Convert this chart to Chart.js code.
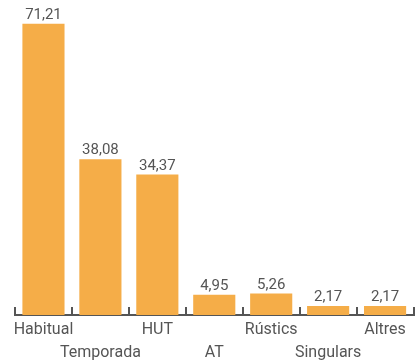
<!DOCTYPE html>
<html>
<head>
<meta charset="utf-8">
<script src="https://cdn.jsdelivr.net/npm/chart.js@4/dist/chart.umd.min.js"></script>
<style>
  body { margin: 0; background: #fff; }
  #wrap { width: 417px; height: 360px; }
</style>
</head>
<body>
<div id="wrap"><canvas id="graph"></canvas></div>
<script>
var categories = ['Habitual', 'Temporada', 'HUT', 'AT', 'Rústics', 'Singulars', 'Altres'];
var values = [71.21, 38.08, 34.37, 4.95, 5.26, 2.17, 2.17];

// staggered labels: every second one goes on the lower line
var tick_labels = categories.map(function(c, i){
    return i % 2 == 0 ? [c, ''] : ['', c];
});

var value_labels = {
    id: 'value_labels',
    afterDatasetsDraw: function(chart){
        var ctx = chart.ctx;
        var meta = chart.getDatasetMeta(0);
        ctx.save();
        ctx.font = '15px Roboto';
        ctx.fillStyle = '#555555';
        ctx.textAlign = 'center';
        ctx.textBaseline = 'bottom';
        meta.data.forEach(function(bar, i){
            var txt = values[i].toFixed(2).replace('.', ',');
            ctx.fillText(txt, bar.x, bar.y - 1);
        });
        ctx.restore();
    }
};

var chart_context = document.getElementById('graph').getContext('2d');
var chart = new Chart(chart_context, {
    type: 'bar',
    data: {
        labels: tick_labels,
        datasets: [{
            backgroundColor: '#F5AD48',
            data: values,
            categoryPercentage: 0.74,
            barPercentage: 1
        }]
    },
    options: {
        responsive: true,
        maintainAspectRatio: false,
        animation: false,
        layout: { padding: { left: 15, right: 2, top: 0, bottom: 0 } },
        plugins: {
            legend: { display: false },
            tooltip: { enabled: false }
        },
        scales: {
            y: { display: false, min: 0, max: 77 },
            x: {
                afterFit: function(scale){ scale.height = 45; },
                border: { color: '#555555', width: 2 },
                grid: {
                    drawOnChartArea: false,
                    color: '#555555',
                    lineWidth: 2,
                    tickLength: -8
                },
                ticks: {
                    color: '#555555',
                    font: { family: 'Roboto', size: 16, lineHeight: 1.45 },
                    padding: 11,
                    maxRotation: 0,
                    autoSkip: false
                }
            }
        }
    },
    plugins: [value_labels]
});
</script>
</body>
</html>
